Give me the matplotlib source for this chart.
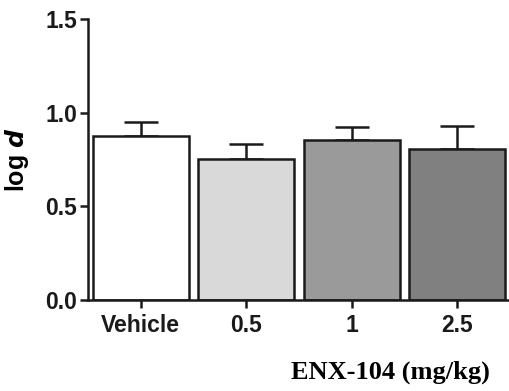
import numpy as np
import matplotlib.pyplot as plt

groups = ['Vehicle', '0.5', '1', '2.5']
means = [0.873, 0.754, 0.856, 0.806]
sems = [0.077, 0.079, 0.068, 0.124]
colors = ['#ffffff', '#d9d9d9', '#9a9a9a', '#808080']

plt.rcParams['font.family'] = 'Liberation Sans'
plt.rcParams['font.weight'] = 'bold'

fig = plt.figure(figsize=(5.09, 3.91), dpi=100)
ax = fig.add_axes([88/509, 91/391, 421/509, 281/391])

x = np.arange(len(groups))
ax.bar(x, means, width=0.91, color=colors, edgecolor='#1a1a1a', linewidth=1.8, zorder=2)
ax.errorbar(x, means, yerr=[np.zeros(len(sems)), sems], fmt='none', ecolor='#1a1a1a',
            elinewidth=1.8, capsize=12, capthick=1.8, zorder=1)

ax.set_xlim(-0.5, 3.49)
ax.set_ylim(0, 1.5)
ax.set_yticks([0.0, 0.5, 1.0, 1.5])
ax.set_yticklabels(['0.0', '0.5', '1.0', '1.5'])
ax.set_xticks(x)
ax.set_xticklabels(groups)

for s in ['top', 'right']:
    ax.spines[s].set_visible(False)
for s in ['left', 'bottom']:
    ax.spines[s].set_linewidth(1.8)
    ax.spines[s].set_color('#1a1a1a')

ax.tick_params(axis='both', length=6, width=1.8, color='#1a1a1a', labelsize=16.5, pad=2)
ax.tick_params(axis='x', pad=4)
for lab in ax.get_xticklabels() + ax.get_yticklabels():
    lab.set_fontweight('bold')
    lab.set_color('#1a1a1a')

ax.set_ylabel(r'log $\bf\it{d}$', fontsize=18, fontweight='bold', labelpad=10)

fig.text(390/509, 1 - 372/391, 'ENX-104 (mg/kg)', family='Liberation Serif',
         fontsize=19, fontweight='bold', ha='center', va='center')

fig.savefig('out.png', dpi=100)
